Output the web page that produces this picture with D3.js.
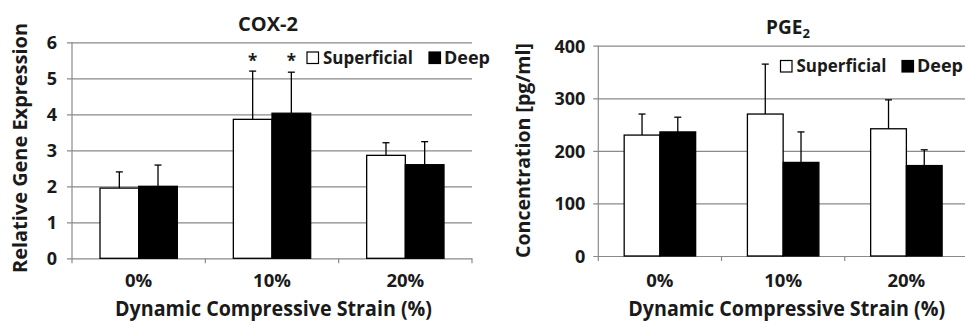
<!DOCTYPE html>
<html>
<head>
<meta charset="utf-8">
<script src="https://cdn.jsdelivr.net/npm/d3@7"></script>
<style>
  body { margin: 0; background: #fff; }
  svg text { font-family: "Open Sans", "Noto Sans", sans-serif; font-weight: 700; fill: #1a1a1a; }
</style>
</head>
<body>
<svg id="chart" width="965" height="323"></svg>
<script>
// categories and series
var strains = ['0%', '10%', '20%']
var zones = ['Superficial', 'Deep']

// COX-2 relative gene expression: means and (upper) standard deviations
var coxSuperficial = [1.95, 3.86, 2.86]
var coxDeep = [2.0, 4.03, 2.6]
var coxSuperficialSd = [0.45, 1.34, 0.35]
var coxDeepSd = [0.59, 1.14, 0.64]
var coxTicks = [0, 1, 2, 3, 4, 5, 6]
var coxStars = ['10%']   // significant vs 0%

// PGE2 concentration [pg/ml]
var pgeSuperficial = [230, 270, 242]
var pgeDeep = [236, 178, 172]
var pgeSuperficialSd = [40, 95, 55]
var pgeDeepSd = [28, 58, 30]
var pgeTicks = [0, 100, 200, 300, 400]

var svg = d3.select('#chart')

// build one bar panel
function panel(opt) {
    var rows = strains.map(function (s, i) {
        return {
            strain: s,
            bars: [
                { zone: 'Superficial', value: opt.sup[i], sd: opt.supSd[i] },
                { zone: 'Deep', value: opt.deep[i], sd: opt.deepSd[i] }
            ]
        }
    })

    var x = d3.scaleBand()
        .domain(strains)
        .range([opt.x0, opt.x1])
        .paddingInner(0.42)
        .paddingOuter(0.21)

    var xz = d3.scaleBand()
        .domain(zones)
        .range([0, x.bandwidth()])

    var y = d3.scaleLinear()
        .domain([0, opt.max])
        .range([opt.y0, opt.y1])

    var g = svg.append('g')

    // gridlines + y tick labels
    var yAxis = g.append('g')
        .attr('transform', 'translate(' + (opt.x0 - 5) + ',0)')
        .call(d3.axisLeft(y)
            .tickValues(opt.ticks)
            .tickFormat(d3.format('d'))
            .tickSize(-(opt.gridEnd - opt.x0 + 5))
            .tickPadding(opt.tickPad))
    yAxis.select('.domain').remove()
    yAxis.selectAll('line').attr('stroke', '#8a8a8a').attr('stroke-width', 1.2)
    yAxis.selectAll('text')
        .style('font-size', '18px')
        .attr('dy', '0.36em')

    // y axis line
    g.append('line')
        .attr('x1', opt.x0).attr('x2', opt.x0)
        .attr('y1', y(opt.max)).attr('y2', y(0))
        .attr('stroke', '#8a8a8a').attr('stroke-width', 1.2)

    // x tick marks at category boundaries
    var bounds = d3.range(strains.length + 1).map(function (i) { return opt.x0 + i * x.step() })
    g.selectAll('.xtick')
        .data(bounds)
        .enter()
        .append('line')
        .attr('class', 'xtick')
        .attr('x1', function (d) { return d }).attr('x2', function (d) { return d })
        .attr('y1', y(0)).attr('y2', y(0) + 5)
        .attr('stroke', '#8a8a8a').attr('stroke-width', 1.2)

    // x category labels
    g.selectAll('.xlab')
        .data(strains)
        .enter()
        .append('text')
        .attr('class', 'xlab')
        .attr('x', function (d) { return x(d) + x.bandwidth() / 2 })
        .attr('y', 286.5)
        .attr('text-anchor', 'middle')
        .style('font-size', '18.5px')
        .text(function (d) { return d })

    // bars
    var grp = g.selectAll('.grp')
        .data(rows)
        .enter()
        .append('g')
        .attr('class', 'grp')
        .attr('transform', function (d) { return 'translate(' + x(d.strain) + ',0)' })

    grp.selectAll('rect')
        .data(function (d) { return d.bars })
        .enter()
        .append('rect')
        .attr('x', function (d) { return xz(d.zone) })
        .attr('y', function (d) { return y(d.value) })
        .attr('width', xz.bandwidth())
        .attr('height', function (d) { return y(0) - y(d.value) })
        .attr('fill', function (d) { return d.zone == 'Deep' ? '#000' : '#fff' })
        .attr('stroke', '#000')
        .attr('stroke-width', 1.3)

    // error bars (upper half only)
    var eb = grp.selectAll('.err')
        .data(function (d) { return d.bars })
        .enter()
        .append('g')
        .attr('class', 'err')
        .attr('transform', function (d) { return 'translate(' + (xz(d.zone) + xz.bandwidth() / 2) + ',0)' })
    eb.append('line')
        .attr('y1', function (d) { return y(d.value) })
        .attr('y2', function (d) { return y(d.value + d.sd) })
        .attr('stroke', '#000').attr('stroke-width', 1.3)
    eb.append('line')
        .attr('x1', -3.5).attr('x2', 3.5)
        .attr('y1', function (d) { return y(d.value + d.sd) })
        .attr('y2', function (d) { return y(d.value + d.sd) })
        .attr('stroke', '#000').attr('stroke-width', 1.3)

    // significance stars
    if (opt.stars) {
        var starBars = []
        rows.forEach(function (r) {
            if (opt.stars.indexOf(r.strain) >= 0) {
                r.bars.forEach(function (b) { starBars.push({ strain: r.strain, zone: b.zone }) })
            }
        })
        g.selectAll('.star')
            .data(starBars)
            .enter()
            .append('text')
            .attr('class', 'star')
            .attr('x', function (d) { return x(d.strain) + xz(d.zone) + xz.bandwidth() / 2 })
            .attr('y', 67)
            .attr('text-anchor', 'middle')
            .style('font-size', '17px')
            .text('*')
    }

    // legend
    var lg = g.append('g')
    zones.forEach(function (z, i) {
        var it = opt.legend[i]
        lg.append('rect')
            .attr('x', it.sx).attr('y', opt.legendY - 11.5)
            .attr('width', 11.5).attr('height', 11.5)
            .attr('fill', z == 'Deep' ? '#000' : '#fff')
            .attr('stroke', '#000').attr('stroke-width', 1.2)
        lg.append('text')
            .attr('x', it.tx).attr('y', opt.legendY)
            .attr('textLength', it.tw)
            .attr('lengthAdjust', 'spacingAndGlyphs')
            .style('font-size', '17px')
            .text(z)
    })

    // y axis title
    g.append('text')
        .attr('transform', 'translate(' + opt.ylabX + ',' + opt.ylabY + ') rotate(-90)')
        .attr('text-anchor', 'middle')
        .attr('textLength', opt.ylabW)
        .attr('lengthAdjust', 'spacingAndGlyphs')
        .style('font-size', '19px')
        .text(opt.ylab)

    // x axis title
    g.append('text')
        .attr('x', opt.xlabX).attr('y', 315.5)
        .attr('text-anchor', 'middle')
        .attr('textLength', 317)
        .attr('lengthAdjust', 'spacingAndGlyphs')
        .style('font-size', '20.5px')
        .text('Dynamic Compressive Strain (%)')

    return g
}

var left = panel({
    x0: 72, x1: 472, gridEnd: 472, y0: 258.3, y1: 42.3, max: 6,
    ticks: coxTicks, tickPad: 10,
    sup: coxSuperficial, deep: coxDeep, supSd: coxSuperficialSd, deepSd: coxDeepSd,
    stars: coxStars,
    legendY: 63.5, legend: [{ sx: 307, tx: 323, tw: 90 }, { sx: 429, tx: 444, tw: 46 }],
    ylab: 'Relative Gene Expression', ylabX: 27, ylabY: 148, ylabW: 250,
    xlabX: 273.5
})
left.append('text')
    .attr('x', 268).attr('y', 30.5)
    .attr('text-anchor', 'middle')
    .style('font-size', '20px')
    .text('COX-2')

var right = panel({
    x0: 598.3, x1: 968, gridEnd: 965, y0: 256, y1: 45.7, max: 400,
    ticks: pgeTicks, tickPad: 8,
    sup: pgeSuperficial, deep: pgeDeep, supSd: pgeSuperficialSd, deepSd: pgeDeepSd,
    stars: null,
    legendY: 72, legend: [{ sx: 780.5, tx: 796.5, tw: 90 }, { sx: 902, tx: 917, tw: 46 }],
    ylab: 'Concentration [pg/ml]', ylabX: 530, ylabY: 150.5, ylabW: 215,
    xlabX: 786.7
})
var pt = right.append('text')
    .attr('x', 788).attr('y', 33.5)
    .attr('text-anchor', 'middle')
    .style('font-size', '19px')
pt.append('tspan').text('PGE')
pt.append('tspan').attr('dy', 4).style('font-size', '13px').text('2')
</script>
</body>
</html>
